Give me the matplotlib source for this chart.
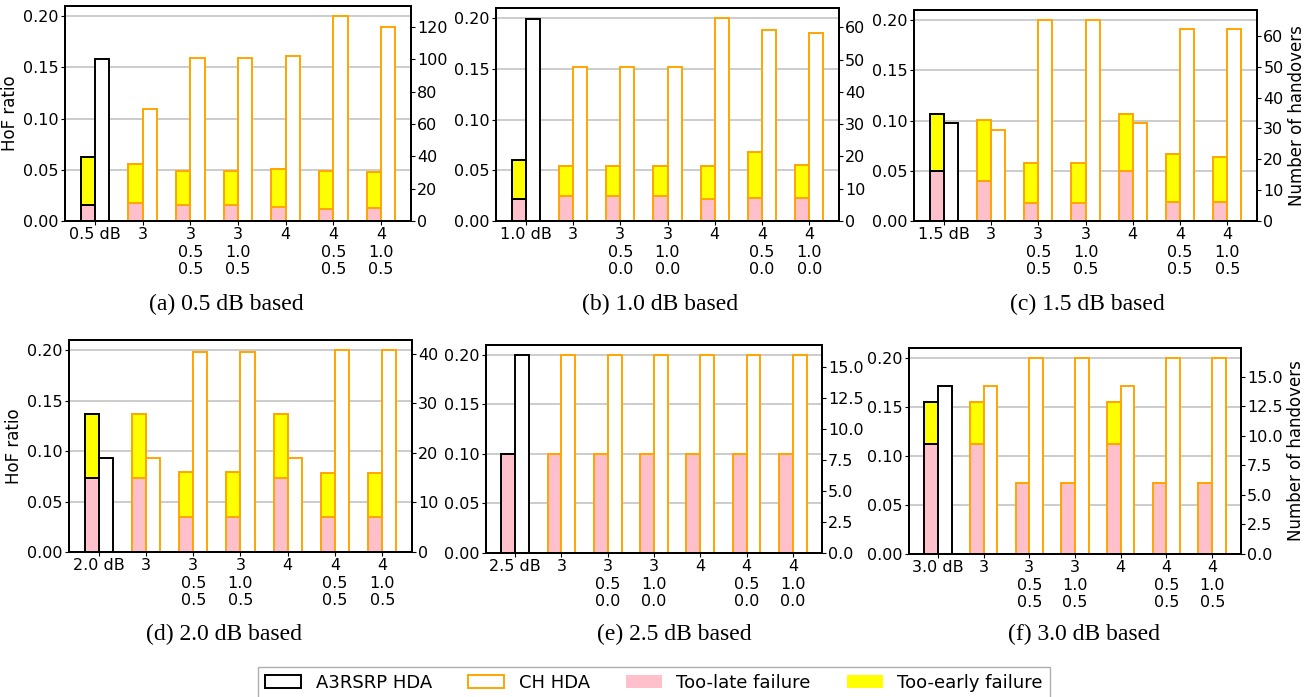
import matplotlib
matplotlib.use('Agg')
import matplotlib.pyplot as plt
from matplotlib.patches import Patch
from matplotlib.ticker import MultipleLocator
import numpy as np

# tick labels of the CH HDA variants (first group is the A3RSRP offset)
ch_labels_05 = ['3', '3\n0.5\n0.5', '3\n1.0\n0.5', '4', '4\n0.5\n0.5', '4\n1.0\n0.5']
ch_labels_00 = ['3', '3\n0.5\n0.0', '3\n1.0\n0.0', '4', '4\n0.5\n0.0', '4\n1.0\n0.0']

offsets = ['0.5', '1.0', '1.5', '2.0', '2.5', '3.0']
captions = ['(a)', '(b)', '(c)', '(d)', '(e)', '(f)']

# too-late failure ratio per group
late_a = [0.0157, 0.0173, 0.0157, 0.0157, 0.0134, 0.0121, 0.0124]
late_b = [0.0215, 0.0248, 0.0248, 0.0248, 0.0218, 0.0231, 0.0231]
late_c = [0.0497, 0.0401, 0.0175, 0.0175, 0.0497, 0.0185, 0.0185]
late_d = [0.0734, 0.0734, 0.0344, 0.0344, 0.0734, 0.0344, 0.0344]
late_e = [0.100, 0.100, 0.100, 0.100, 0.100, 0.100, 0.100]
late_f = [0.1123, 0.1123, 0.0724, 0.0724, 0.1123, 0.0724, 0.0724]

# too-early failure ratio per group
early_a = [0.0465, 0.0380, 0.0331, 0.0331, 0.0377, 0.0367, 0.0357]
early_b = [0.0385, 0.0297, 0.0297, 0.0297, 0.0320, 0.0446, 0.0317]
early_c = [0.0566, 0.0609, 0.0401, 0.0401, 0.0566, 0.0484, 0.0454]
early_d = [0.0631, 0.0631, 0.0449, 0.0449, 0.0631, 0.0439, 0.0439]
early_e = [0.0, 0.0, 0.0, 0.0, 0.0, 0.0, 0.0]
early_f = [0.0427, 0.0427, 0.0, 0.0, 0.0427, 0.0, 0.0]

# number of handovers per group
ho_a = [100, 69, 101, 101, 102, 126.6, 120]
ho_b = [62.6, 47.7, 47.7, 47.7, 62.9, 59.2, 58.4]
ho_c = [31.6, 29.6, 65.1, 65.1, 31.6, 62.1, 62.1]
ho_d = [19.0, 19.0, 40.3, 40.3, 19.0, 40.7, 40.7]
ho_e = [16, 16, 16, 16, 16, 16, 16]
ho_f = [14.2, 14.2, 16.6, 16.6, 14.2, 16.6, 16.6]

lates = [late_a, late_b, late_c, late_d, late_e, late_f]
earlies = [early_a, early_b, early_c, early_d, early_e, early_f]
hos = [ho_a, ho_b, ho_c, ho_d, ho_e, ho_f]
ch_labels = [ch_labels_05, ch_labels_00, ch_labels_05, ch_labels_05, ch_labels_00, ch_labels_05]
ho_steps = [20, 10, 10, 10, 2.5, 2.5]

W, H = 1306, 697
# axes boxes in pixels: x0, x1, y_top, y_bottom
boxes = [(65, 411, 6, 221), (496, 839, 8, 221), (914, 1257, 10, 221),
         (69, 412, 340, 552), (486, 822, 345, 553), (909, 1241, 348, 554)]
cap_pos = [(226, 304), (660, 304), (1087, 304), (224, 634), (674, 634), (1084, 634)]

plt.rcParams['font.family'] = 'DejaVu Sans'
plt.rcParams['axes.linewidth'] = 1.4

fig = plt.figure(figsize=(W / 100, H / 100), dpi=100)

width = 0.3
for i in range(6):
    x0, x1, yt, yb = boxes[i]
    ax = fig.add_axes([x0 / W, 1 - yb / H, (x1 - x0) / W, (yb - yt) / H])
    ax2 = ax.twinx()
    x = np.arange(7)
    edges = ['black'] + ['orange'] * 6
    late = np.array(lates[i])
    early = np.array(earlies[i])
    ax.bar(x - width / 2, late, width, color='pink', edgecolor=edges, linewidth=1.4)
    ax.bar(x - width / 2, early, width, bottom=late, color='yellow', edgecolor=edges, linewidth=1.4)
    ax2.bar(x + width / 2, hos[i], width, color='white', edgecolor=edges, linewidth=1.4)
    ax.set_ylim(0, 0.21)
    ax.set_yticks([0, 0.05, 0.10, 0.15, 0.20])
    ax.set_yticklabels(['0.00', '0.05', '0.10', '0.15', '0.20'])
    ax2.yaxis.set_major_locator(MultipleLocator(ho_steps[i]))
    ax.yaxis.grid(True, color='#c4c4c4', linewidth=1.2)
    ax.set_axisbelow(True)
    ax.set_xticks(x)
    ax.set_xticklabels([offsets[i] + ' dB'] + ch_labels[i])
    ax.tick_params(labelsize=11.5, length=3, pad=1.5)
    ax2.tick_params(labelsize=11.5, length=3, pad=1.5)
    if i in (0, 3):
        ax.set_ylabel('HoF ratio', fontsize=12, labelpad=3)
    if i in (2, 5):
        ax2.set_ylabel('Number of handovers', fontsize=12, labelpad=3)
    cx, cy = cap_pos[i]
    fig.text(cx / W, 1 - cy / H, captions[i] + ' ' + offsets[i] + ' dB based',
             ha='center', va='center', family='Liberation Serif', fontsize=17)

handles = [Patch(facecolor='white', edgecolor='black', linewidth=1.4),
           Patch(facecolor='white', edgecolor='orange', linewidth=1.4),
           Patch(facecolor='pink'),
           Patch(facecolor='yellow')]
fig.legend(handles, ['A3RSRP HDA', 'CH HDA', 'Too-late failure', 'Too-early failure'],
           loc='center', bbox_to_anchor=(654 / W, 1 - 683 / H), ncol=4, fontsize=13,
           fancybox=False, edgecolor='#999999', columnspacing=2.0)

fig.savefig('out.png', dpi=100)
